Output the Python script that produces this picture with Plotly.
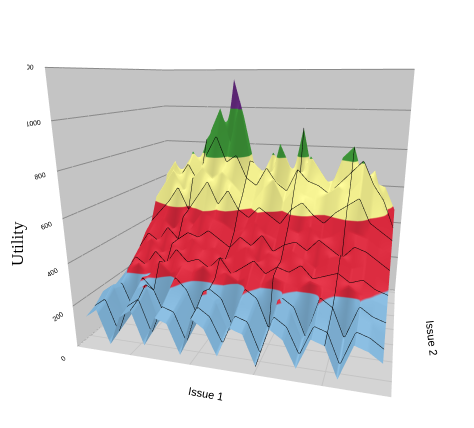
import plotly.graph_objects as go

# Issue 1 options (front axis) and Issue 2 options (right axis)
issue1 = list(range(1, 25))
issue2 = list(range(1, 15))

# utility, rows = issue 2 (back -> front)
utility = [
    [560, 610, 700, 640, 820, 900, 760, 1150, 950, 700, 640, 760, 680, 620, 900, 640, 600, 620, 700, 640, 560, 620, 600, 480],
    [620, 700, 560, 760, 680, 880, 1000, 820, 1040, 720, 680, 600, 820, 700, 640, 760, 680, 600, 760, 820, 640, 700, 520, 460],
    [480, 560, 620, 700, 600, 760, 860, 720, 760, 640, 600, 700, 620, 580, 700, 640, 620, 580, 640, 700, 760, 640, 560, 420],
    [520, 600, 680, 560, 640, 700, 640, 680, 620, 560, 520, 600, 660, 540, 620, 580, 560, 600, 640, 600, 680, 560, 500, 440],
    [400, 460, 520, 600, 480, 560, 640, 520, 600, 500, 460, 520, 480, 440, 520, 560, 500, 460, 520, 560, 600, 480, 440, 400],
    [360, 420, 440, 380, 460, 420, 500, 460, 440, 400, 420, 460, 400, 380, 440, 420, 460, 400, 420, 460, 440, 420, 380, 360],
    [300, 380, 340, 420, 360, 400, 380, 420, 380, 340, 400, 360, 420, 340, 380, 400, 360, 420, 380, 340, 400, 380, 340, 300],
    [260, 320, 380, 300, 360, 320, 400, 340, 360, 300, 340, 380, 300, 360, 320, 380, 340, 300, 360, 380, 320, 340, 300, 260],
    [220, 300, 260, 340, 280, 360, 300, 320, 280, 340, 260, 300, 340, 280, 320, 300, 340, 280, 300, 320, 280, 300, 260, 240],
    [200, 260, 300, 240, 320, 260, 300, 280, 320, 260, 300, 260, 300, 260, 300, 280, 260, 300, 280, 260, 300, 260, 240, 220],
    [180, 220, 80, 260, 200, 60, 280, 220, 80, 240, 200, 60, 260, 220, 80, 240, 200, 60, 260, 220, 80, 240, 200, 180],
    [200, 240, 60, 220, 260, 80, 240, 200, 60, 260, 220, 80, 240, 200, 60, 260, 220, 80, 240, 200, 60, 220, 200, 160],
    [160, 200, 40, 180, 220, 60, 200, 180, 40, 220, 180, 60, 200, 180, 40, 220, 180, 60, 200, 180, 40, 200, 180, 140],
    [140, 180, 20, 160, 200, 40, 180, 160, 20, 200, 160, 40, 180, 160, 20, 200, 160, 40, 180, 160, 20, 180, 160, 120],
]

blue, red, yellow, green, purple = "#7fb2d6", "#d8283c", "#f2ef8e", "#3f9a3a", "#6a2c86"
scale = [[0, blue], [0.2, blue], [0.2, red], [0.4, red], [0.4, yellow],
         [0.6, yellow], [0.6, green], [0.8, green], [0.8, purple], [1, purple]]

fig = go.Figure(go.Surface(
    x=issue1, y=issue2[::-1], z=utility,
    colorscale=scale, cmin=0, cmax=1250, showscale=False,
    lighting=dict(ambient=0.85, diffuse=0.4, specular=0.05),
    contours=dict(x=dict(show=True, color="black", width=1),
                  y=dict(show=True, color="black", width=1)),
))

serif = dict(family="Liberation Serif", size=17, color="black")
axis_common = dict(showbackground=True, backgroundcolor="#c4c4c4", gridcolor="#c4c4c4",
                   showticklabels=False, title_font=serif)
fig.update_layout(
    width=474, height=428, margin=dict(l=0, r=0, t=0, b=0),
    paper_bgcolor="white",
    font=dict(family="Liberation Sans", size=9, color="black"),
    scene=dict(
        domain=dict(x=[0.04, 1], y=[0, 0.97]),
        xaxis=dict(axis_common, title="Issue 1"),
        yaxis=dict(axis_common, title="Issue 2"),
        zaxis=dict(showbackground=True, backgroundcolor="#d4d4d4", gridcolor="#8a8a8a",
                   range=[0, 1200], dtick=200, title=""),
        camera=dict(eye=dict(x=0.55, y=-1.95, z=0.5), center=dict(x=0, y=0, z=-0.12)),
        aspectmode="manual", aspectratio=dict(x=1.2, y=0.9, z=1.05),
    ),
    annotations=[dict(text="Utility", textangle=-90, x=0.02, y=0.45, xref="paper", yref="paper",
                      xanchor="center", showarrow=False, font=serif)],
)

fig.write_html("out.html")
